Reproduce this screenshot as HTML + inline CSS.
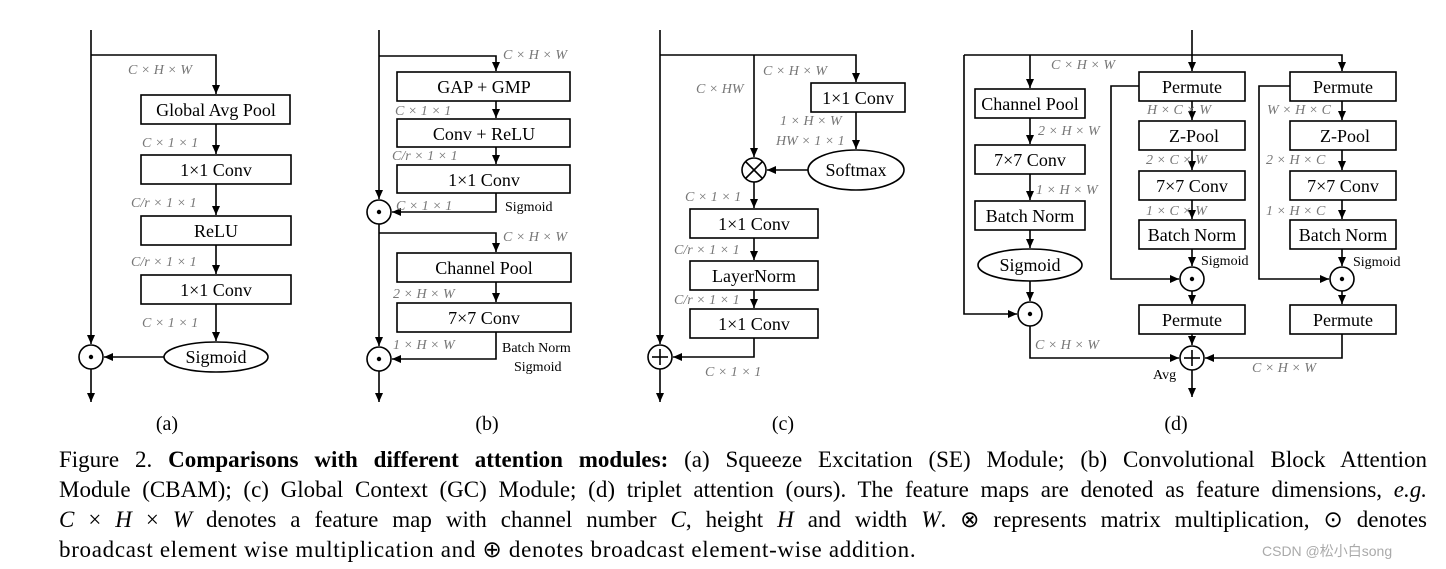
<!DOCTYPE html>
<html><head><meta charset="utf-8"><style>
body{margin:0;width:1446px;height:569px;background:#fff;overflow:hidden;position:relative;font-family:"Liberation Serif",serif}
svg{position:absolute;left:0;top:0}
.cap{position:absolute;left:59px;width:1368px;font-size:23px;line-height:30px;white-space:nowrap;text-align:justify;text-align-last:justify;color:#000}
.cap.l{text-align-last:left;letter-spacing:0.7px}
i{font-style:italic}
</style></head><body>
<svg width="1446" height="440" viewBox="0 0 1446 440">
<defs><marker id="a" markerUnits="userSpaceOnUse" markerWidth="10" markerHeight="10" refX="9" refY="4" orient="auto"><path d="M0,0 L9,4 L0,8 z" fill="#000"/></marker></defs>
<g fill="none" stroke="#000" stroke-width="1.6">
<line x1="91" y1="30" x2="91" y2="344" marker-end="url(#a)"/>
<polyline points="91,55 216,55 216,94" marker-end="url(#a)"/>
<rect x="141" y="95" width="149" height="29"/>
<line x1="216" y1="124" x2="216" y2="154" marker-end="url(#a)"/>
<rect x="141" y="155" width="150" height="29"/>
<line x1="216" y1="184" x2="216" y2="215" marker-end="url(#a)"/>
<rect x="141" y="216" width="150" height="29"/>
<line x1="216" y1="245" x2="216" y2="274" marker-end="url(#a)"/>
<rect x="141" y="275" width="150" height="29"/>
<line x1="216" y1="304" x2="216" y2="341" marker-end="url(#a)"/>
<ellipse cx="216" cy="357" rx="52" ry="15"/>
<line x1="164" y1="357" x2="104" y2="357" marker-end="url(#a)"/>
<circle cx="91" cy="357" r="12"/>
<line x1="91" y1="369" x2="91" y2="402" marker-end="url(#a)"/>
<line x1="379" y1="30" x2="379" y2="199" marker-end="url(#a)"/>
<polyline points="379,56 496,56 496,71" marker-end="url(#a)"/>
<rect x="397" y="72" width="173" height="29"/>
<line x1="496" y1="101" x2="496" y2="118" marker-end="url(#a)"/>
<rect x="397" y="119" width="173" height="28"/>
<line x1="496" y1="147" x2="496" y2="164" marker-end="url(#a)"/>
<rect x="397" y="165" width="173" height="28"/>
<polyline points="496,193 496,212 392,212" marker-end="url(#a)"/>
<circle cx="379" cy="212" r="12"/>
<line x1="379" y1="224" x2="379" y2="346" marker-end="url(#a)"/>
<polyline points="379,233 496,233 496,252" marker-end="url(#a)"/>
<rect x="397" y="253" width="174" height="29"/>
<line x1="496" y1="282" x2="496" y2="302" marker-end="url(#a)"/>
<rect x="397" y="303" width="174" height="29"/>
<polyline points="496,332 496,359 392,359" marker-end="url(#a)"/>
<circle cx="379" cy="359" r="12"/>
<line x1="379" y1="371" x2="379" y2="402" marker-end="url(#a)"/>
<line x1="660" y1="30" x2="660" y2="344" marker-end="url(#a)"/>
<polyline points="660,55 856,55 856,82" marker-end="url(#a)"/>
<line x1="754" y1="55" x2="754" y2="157" marker-end="url(#a)"/>
<rect x="811" y="83" width="94" height="29"/>
<line x1="856" y1="112" x2="856" y2="149" marker-end="url(#a)"/>
<ellipse cx="856" cy="170" rx="48" ry="20"/>
<line x1="808" y1="170" x2="767" y2="170" marker-end="url(#a)"/>
<circle cx="754" cy="170" r="12"/>
<line x1="746" y1="162" x2="762" y2="178"/><line x1="762" y1="162" x2="746" y2="178"/>
<line x1="754" y1="182" x2="754" y2="208" marker-end="url(#a)"/>
<rect x="690" y="209" width="128" height="29"/>
<line x1="754" y1="238" x2="754" y2="260" marker-end="url(#a)"/>
<rect x="690" y="261" width="128" height="29"/>
<line x1="754" y1="290" x2="754" y2="308" marker-end="url(#a)"/>
<rect x="690" y="309" width="128" height="29"/>
<polyline points="754,338 754,357 673,357" marker-end="url(#a)"/>
<circle cx="660" cy="357" r="12"/>
<line x1="652" y1="357" x2="668" y2="357"/><line x1="660" y1="349" x2="660" y2="365"/>
<line x1="660" y1="369" x2="660" y2="402" marker-end="url(#a)"/>
<line x1="1192" y1="30" x2="1192" y2="71" marker-end="url(#a)"/>
<polyline points="964,55 1342,55 1342,71" marker-end="url(#a)"/>
<polyline points="964,55 964,314 1017,314" marker-end="url(#a)"/>
<line x1="1030" y1="55" x2="1030" y2="88" marker-end="url(#a)"/>
<rect x="975" y="89" width="110" height="29"/>
<line x1="1030" y1="118" x2="1030" y2="144" marker-end="url(#a)"/>
<rect x="975" y="145" width="110" height="29"/>
<line x1="1030" y1="174" x2="1030" y2="200" marker-end="url(#a)"/>
<rect x="975" y="201" width="110" height="29"/>
<line x1="1030" y1="230" x2="1030" y2="248" marker-end="url(#a)"/>
<ellipse cx="1030" cy="265" rx="52" ry="16"/>
<line x1="1030" y1="281" x2="1030" y2="301" marker-end="url(#a)"/>
<circle cx="1030" cy="314" r="12"/>
<polyline points="1030,326 1030,358 1179,358" marker-end="url(#a)"/>
<rect x="1139" y="72" width="106" height="29"/>
<line x1="1192" y1="101" x2="1192" y2="120" marker-end="url(#a)"/>
<rect x="1139" y="121" width="106" height="29"/>
<line x1="1192" y1="150" x2="1192" y2="170" marker-end="url(#a)"/>
<rect x="1139" y="171" width="106" height="29"/>
<line x1="1192" y1="200" x2="1192" y2="219" marker-end="url(#a)"/>
<rect x="1139" y="220" width="106" height="29"/>
<line x1="1192" y1="249" x2="1192" y2="266" marker-end="url(#a)"/>
<polyline points="1139,86 1111,86 1111,279 1179,279" marker-end="url(#a)"/>
<circle cx="1192" cy="279" r="12"/>
<line x1="1192" y1="291" x2="1192" y2="304" marker-end="url(#a)"/>
<rect x="1139" y="305" width="106" height="29"/>
<line x1="1192" y1="334" x2="1192" y2="345" marker-end="url(#a)"/>
<circle cx="1192" cy="358" r="12"/>
<line x1="1184" y1="358" x2="1200" y2="358"/><line x1="1192" y1="350" x2="1192" y2="366"/>
<line x1="1192" y1="370" x2="1192" y2="397" marker-end="url(#a)"/>
<rect x="1290" y="72" width="106" height="29"/>
<line x1="1342" y1="101" x2="1342" y2="120" marker-end="url(#a)"/>
<rect x="1290" y="121" width="106" height="29"/>
<line x1="1342" y1="150" x2="1342" y2="170" marker-end="url(#a)"/>
<rect x="1290" y="171" width="106" height="29"/>
<line x1="1342" y1="200" x2="1342" y2="219" marker-end="url(#a)"/>
<rect x="1290" y="220" width="106" height="29"/>
<line x1="1342" y1="249" x2="1342" y2="266" marker-end="url(#a)"/>
<polyline points="1290,86 1259,86 1259,279 1329,279" marker-end="url(#a)"/>
<circle cx="1342" cy="279" r="12"/>
<line x1="1342" y1="291" x2="1342" y2="304" marker-end="url(#a)"/>
<rect x="1290" y="305" width="106" height="29"/>
<polyline points="1342,334 1342,358 1205,358" marker-end="url(#a)"/>
</g>
<g fill="#000"><circle cx="91" cy="357" r="2.2"/><circle cx="379" cy="212" r="2.2"/><circle cx="379" cy="359" r="2.2"/><circle cx="1030" cy="314" r="2.2"/><circle cx="1192" cy="279" r="2.2"/><circle cx="1342" cy="279" r="2.2"/></g>
<g font-family="Liberation Serif,serif" font-size="18" text-anchor="middle" fill="#000">
<text x="216" y="116">Global Avg Pool</text><text x="216" y="176">1×1 Conv</text><text x="216" y="237">ReLU</text><text x="216" y="296">1×1 Conv</text><text x="216" y="363">Sigmoid</text>
<text x="484" y="93">GAP + GMP</text><text x="484" y="140">Conv + ReLU</text><text x="484" y="186">1×1 Conv</text><text x="484" y="274">Channel Pool</text><text x="484" y="324">7×7 Conv</text>
<text x="858" y="104">1×1 Conv</text><text x="856" y="176">Softmax</text><text x="754" y="230">1×1 Conv</text><text x="754" y="282">LayerNorm</text><text x="754" y="330">1×1 Conv</text>
<text x="1030" y="110">Channel Pool</text><text x="1030" y="166">7×7 Conv</text><text x="1030" y="222">Batch Norm</text><text x="1030" y="271">Sigmoid</text>
<text x="1192" y="93">Permute</text><text x="1194" y="142">Z-Pool</text><text x="1192" y="192">7×7 Conv</text><text x="1192" y="241">Batch Norm</text><text x="1192" y="326">Permute</text>
<text x="1343" y="93">Permute</text><text x="1345" y="142">Z-Pool</text><text x="1343" y="192">7×7 Conv</text><text x="1343" y="241">Batch Norm</text><text x="1343" y="326">Permute</text>
<text x="167" y="430" font-size="20">(a)</text><text x="487" y="430" font-size="20">(b)</text><text x="783" y="430" font-size="20">(c)</text><text x="1176" y="430" font-size="20">(d)</text>
</g>
<g font-family="Liberation Serif,serif" font-size="14" fill="#000">
<text x="505" y="211">Sigmoid</text><text x="502" y="352">Batch Norm</text><text x="514" y="371">Sigmoid</text>
<text x="1201" y="265">Sigmoid</text><text x="1353" y="266">Sigmoid</text><text x="1153" y="379">Avg</text>
</g>
<g font-family="Liberation Serif,serif" font-size="14" font-style="italic" fill="#777">
<text x="128" y="74">C × H × W</text><text x="142" y="147">C × 1 × 1</text><text x="131" y="207">C/r × 1 × 1</text><text x="131" y="266">C/r × 1 × 1</text><text x="142" y="327">C × 1 × 1</text>
<text x="503" y="59">C × H × W</text><text x="395" y="115">C × 1 × 1</text><text x="392" y="160">C/r × 1 × 1</text><text x="396" y="210">C × 1 × 1</text><text x="503" y="241">C × H × W</text><text x="393" y="298">2 × H × W</text><text x="393" y="349">1 × H × W</text>
<text x="763" y="75">C × H × W</text><text x="696" y="93">C × HW</text><text x="780" y="125">1 × H × W</text><text x="776" y="145">HW × 1 × 1</text><text x="685" y="201">C × 1 × 1</text><text x="674" y="254">C/r × 1 × 1</text><text x="674" y="304">C/r × 1 × 1</text><text x="705" y="376">C × 1 × 1</text>
<text x="1051" y="69">C × H × W</text><text x="1038" y="135">2 × H × W</text><text x="1036" y="194">1 × H × W</text><text x="1035" y="349">C × H × W</text>
<text x="1147" y="114">H × C × W</text><text x="1146" y="164">2 × C × W</text><text x="1146" y="215">1 × C × W</text>
<text x="1267" y="114">W × H × C</text><text x="1266" y="164">2 × H × C</text><text x="1266" y="215">1 × H × C</text><text x="1252" y="372">C × H × W</text>
</g>
</svg>
<div class="cap" style="top:445px">Figure 2. <b>Comparisons with different attention modules:</b> (a) Squeeze Excitation (SE) Module; (b) Convolutional Block Attention</div>
<div class="cap" style="top:475px">Module (CBAM); (c) Global Context (GC) Module; (d) triplet attention (ours). The feature maps are denoted as feature dimensions, <i>e.g.</i></div>
<div class="cap" style="top:505px"><i>C</i> × <i>H</i> × <i>W</i> denotes a feature map with channel number <i>C</i>, height <i>H</i> and width <i>W</i>. ⊗ represents matrix multiplication, ⊙ denotes</div>
<div class="cap l" style="top:535px">broadcast element wise multiplication and ⊕ denotes broadcast element-wise addition.</div>
<div style="position:absolute;left:1262px;top:541px;font-family:'Liberation Sans','Noto Sans CJK SC',sans-serif;font-size:14px;color:#aaa">CSDN @松小白song</div>
</body></html>
